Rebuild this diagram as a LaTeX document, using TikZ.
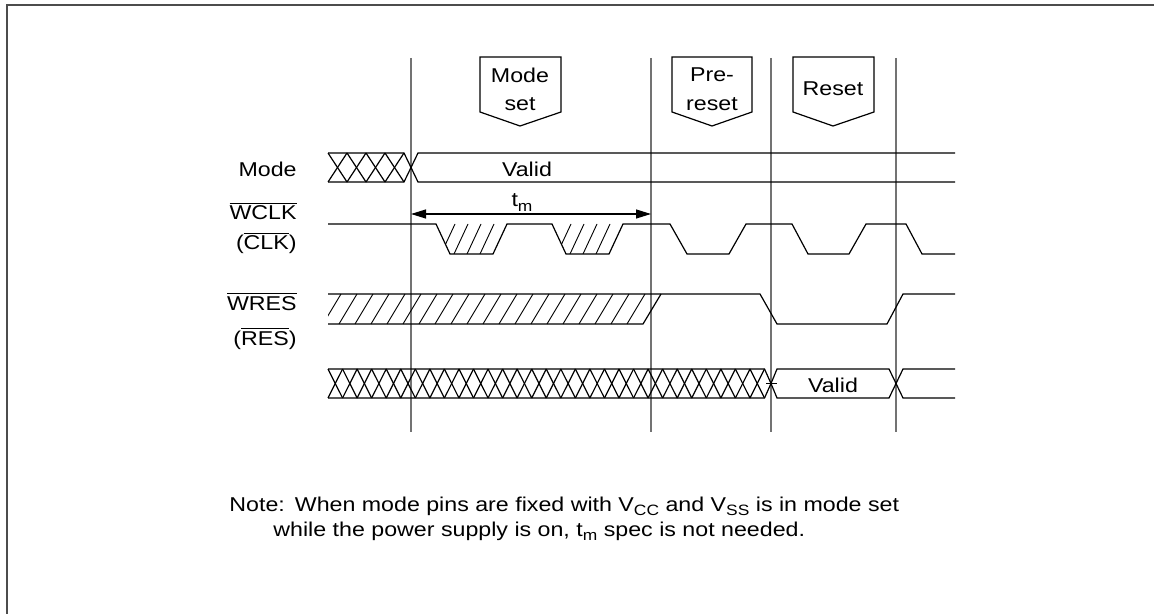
\documentclass[tikz,border=0pt]{standalone}
\usepackage{fontspec}
\setmainfont{Liberation Sans}[FakeStretch=1.16]
\usetikzlibrary{arrows.meta}
\newcommand{\lowidx}[1]{\raisebox{-0.45ex}{\fontsize{7.5}{8}\selectfont #1}}
\begin{document}
\begin{tikzpicture}[x=0.5pt, y=-0.5pt, >={Triangle[length=7.5pt,width=4.5pt]}, font=\fontsize{10}{14}\selectfont]
	\tikzstyle{sigline} = [line width=0.6pt, line join=miter]
	\tikzstyle{guideline} = [line width=0.75pt, black!55]
	\tikzstyle{hatchline} = [line width=0.45pt]
	\tikzstyle{signame} = [inner sep=0pt, anchor=base east]
	\tikzstyle{boxtext} = [inner sep=0pt, anchor=base]
	\useasboundingbox (0,0) rectangle (1154,614);
	\draw[line width=1pt, black!70] (7,614) -- (7,5) -- (1154,5);
	% phase guides
	\foreach \gx/\gn in {411/ga, 651/gb, 771/gc, 896/gd} {
		\coordinate (\gn top) at (\gx,58);
		\coordinate (\gn bot) at (\gx,432);
		\draw[guideline] (\gn top) -- (\gn bot);
	}
	% phase tags
	\draw[sigline] (480,57) -- (561,57) -- (561,112) -- (520,126) -- (480,112) -- cycle;
	\draw[sigline] (672,57) -- (752,57) -- (752,112) -- (712,126) -- (672,112) -- cycle;
	\draw[sigline] (793,57) -- (874,57) -- (874,112) -- (833,126) -- (793,112) -- cycle;
	\node[boxtext] (modeset1) at (520,83) {Mode};
	\node[boxtext] (modeset2) at (520,111) {set};
	\node[boxtext] (preset1) at (712,82) {Pre-};
	\node[boxtext] (preset2) at (712,111) {reset};
	\node[boxtext] (reset) at (833,96) {Reset};
	% signal names
	\node[signame] (mode) at (297,177) {Mode};
	\node[signame] (wclk) at (297,220) {$\overline{\mbox{WCLK}}$};
	\node[signame] (clk) at (297,250) {($\overline{\mbox{CLK}}$)};
	\node[signame] (wres) at (297,310) {$\overline{\mbox{WRES}}$};
	\node[signame] (res) at (297,345) {($\overline{\mbox{RES}}$)};
	% mode bus
	\foreach \k in {0,...,3} {
		\draw[sigline] ({328+19*\k},153) -- ({328+19*(\k+1)},182);
		\draw[sigline] ({328+19*\k},182) -- ({328+19*(\k+1)},153);
	}
	\draw[sigline] (328,153) -- (404,153) -- (411,167.5) -- (404,182) -- (328,182);
	\draw[sigline] (955,153) -- (418,153) -- (411,167.5) -- (418,182) -- (955,182);
	\node[boxtext] (modevalid) at (527,177) {Valid};
	% t_m
	\coordinate (tmL) at (411,214);
	\coordinate (tmR) at (651,214);
	\draw[sigline, <->] (tmL) -- (tmR);
	\node[boxtext] (tm) at (522,207) {t\lowidx{m}};
	% clock
	\draw[sigline] (328,224) -- (436,224) -- (450,254) -- (493,254) -- (507,224) -- (552,224)
		-- (566,254) -- (609,254) -- (623,224) -- (670,224) -- (687,254) -- (729,254) -- (746,224)
		-- (792,224) -- (808,254) -- (849,254) -- (866,224) -- (906,224) -- (922,254) -- (955,254);
	\foreach \a in {436, 552} {
		\begin{scope}
			\clip (\a,224) -- ({\a+14},254) -- ({\a+57},254) -- ({\a+71},224) -- cycle;
			\foreach \h in {1,...,4}
				\draw[hatchline] ({\a+57-13*\h},254) -- ({\a+71-13*\h},224);
		\end{scope}
	}
	% reset
	\draw[sigline] (328,294) -- (760,294) -- (777,324) -- (887,324) -- (903,294) -- (955,294);
	\draw[sigline] (328,324) -- (643,324) -- (661,294);
	\begin{scope}
		\clip (328,294) -- (661,294) -- (643,324) -- (328,324) -- cycle;
		\foreach \h in {1,...,20}
			\draw[hatchline] ({643-16*\h},324) -- ({661-16*\h},294);
	\end{scope}
	% data bus
	\foreach \k in {0,...,29} {
		\draw[sigline] ({328+14.55*\k},369) -- ({328+14.55*(\k+1)},398);
		\draw[sigline] ({328+14.55*\k},398) -- ({328+14.55*(\k+1)},369);
	}
	\draw[sigline] (328,369) -- (764.5,369) -- (771,383.5) -- (764.5,398) -- (328,398);
	\draw[sigline] (777,369) -- (771,383.5) -- (777,398) -- (889,398) -- (896,383.5) -- (889,369) -- cycle;
	\draw[sigline] (955,369) -- (903,369) -- (896,383.5) -- (903,398) -- (955,398);
	\draw[sigline] (766,383.5) -- (777,383.5);
	\node[boxtext] (busvalid) at (833,392) {Valid};
	% note
	\node[inner sep=0pt, anchor=base west] (note1) at (229,511) {Note:\hspace{5pt}When mode pins are fixed with V\lowidx{CC} and V\lowidx{SS} is in mode set};
	\node[inner sep=0pt, anchor=base west] (note2) at (273,536) {while the power supply is on, t\lowidx{m} spec is not needed.};
\end{tikzpicture}
\end{document}
